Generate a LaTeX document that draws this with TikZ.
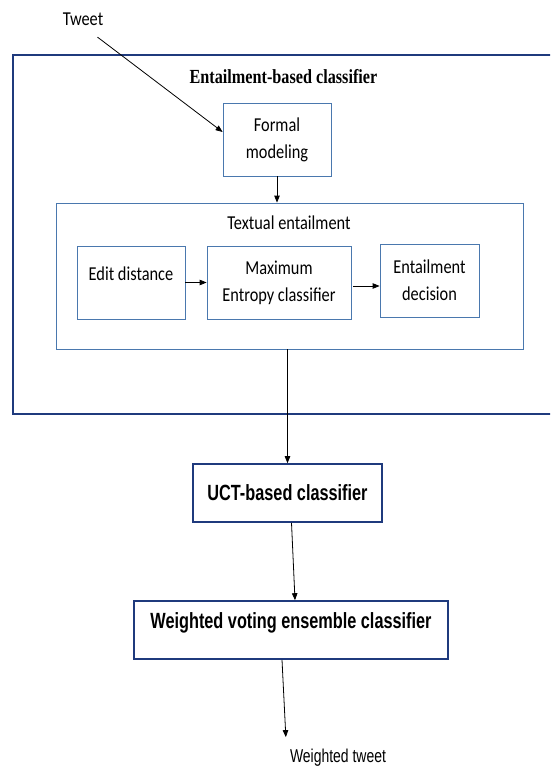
\documentclass[tikz,border=0pt]{standalone}
\usepackage{fontspec}
\usetikzlibrary{arrows.meta,calc}
\newfontfamily\calfont[FakeStretch=0.83]{Carlito}
\newfontfamily\headfont[FakeStretch=0.74]{Liberation Sans}
\newfontfamily\tailfont[FakeStretch=0.75]{Liberation Sans}
\newfontfamily\titlefont[FakeStretch=0.81]{Liberation Serif}
\definecolor{boxblue}{HTML}{4A78AE}
\definecolor{deepblue}{HTML}{1F3A7D}

\begin{document}
\begin{tikzpicture}[x=1pt, y=-1pt,
	inbox/.style={draw=boxblue, line width=0.8pt, inner sep=0pt, align=center, font=\calfont\fontsize{19.7}{27}\selectfont},
	mainbox/.style={draw=deepblue, line width=1.6pt, inner sep=0pt, font=\headfont\bfseries\fontsize{22}{26}\selectfont},
	arr/.style={line width=0.8pt, -{Triangle[length=7pt,width=5.5pt]}}]
	%%%%% START %%%%%
	\useasboundingbox (0, 0) rectangle (550, 770);
	\clip (0, 0) rectangle (550, 770);
	
	\node[inner sep=0pt, font=\calfont\fontsize{19.7}{24}\selectfont] (tweet) at (83, 19.5) {Tweet};
	
	\node[draw=deepblue, line width=1.6pt, minimum width=549pt, minimum height=359pt] (outer) at (287.5, 234.5) {};
	\node[inner sep=0pt, font=\titlefont\bfseries\fontsize{20}{24}\selectfont] (title) at (283.5, 76.5) {Entailment-based classifier};
	
	\node[inbox, minimum width=108pt, minimum height=73pt] (formal) at (277, 139.5) {Formal\\modeling};
	
	\node[draw=boxblue, line width=0.8pt, minimum width=467pt, minimum height=146pt] (textual) at (289.5, 276) {};
	\node[inner sep=0pt, font=\calfont\fontsize{19.7}{24}\selectfont] (txtitle) at (289, 223) {Textual entailment};
	
	\node[inbox, minimum width=108pt, minimum height=73pt, text height=14pt, text depth=19pt] (edit) at (131, 282.5) {Edit distance};
	\node[inbox, minimum width=144pt, minimum height=73pt] (maxent) at (279, 282.5) {Maximum\\Entropy classifier};
	\node[inbox, minimum width=99pt, minimum height=73pt] (decision) at (429.5, 280.5) {Entailment\\decision};
	
	\node[mainbox, minimum width=189pt, minimum height=58pt] (uct) at (287.5, 493) {UCT-based classifier};
	\node[mainbox, minimum width=314pt, minimum height=58pt, text height=16pt, text depth=19.5pt] (voting) at (291, 630) {Weighted voting ensemble classifier};
	
	\node[inner sep=0pt, font=\tailfont\fontsize{18.6}{22}\selectfont] (result) at (338, 758) {Weighted tweet};
	
	\draw[arr] ([xshift=-6pt, yshift=-11pt]tweet.south east) -- ([yshift=7.5pt]formal.west);
	\draw[arr] (formal.south) -- (formal.south |- textual.north);
	\draw[arr] (edit.east) -- (maxent.west);
	\draw[arr] ([xshift=2pt, yshift=-3.5pt]maxent.east) -- ([yshift=-5.5pt]decision.west);
	\draw[arr] ([xshift=-2pt]textual.south) -- (uct.north);
	\draw[arr] ([xshift=4pt]uct.south) -- ([xshift=4pt]voting.north);
	\draw[arr] ([xshift=-9pt]voting.south) -- ([xshift=-4pt, yshift=12pt]result.north west);
	
	%%%%% END %%%%%
\end{tikzpicture}
\end{document}
